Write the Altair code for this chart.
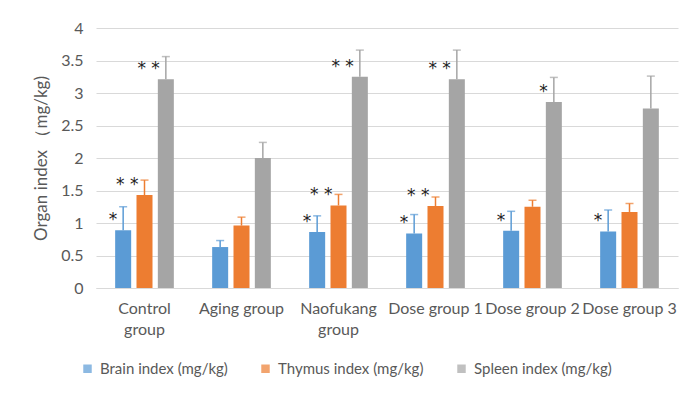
import altair as alt
import pandas as pd

groups = ["Control group", "Aging group", "Naofukang group", "Dose group 1", "Dose group 2", "Dose group 3"]
series = ["Brain index (mg/kg)", "Thymus index (mg/kg)", "Spleen index (mg/kg)"]
brain = [0.89, 0.63, 0.86, 0.84, 0.88, 0.87]
brain_err = [1.25, 0.73, 1.11, 1.13, 1.18, 1.20]
thymus = [1.43, 0.96, 1.27, 1.26, 1.25, 1.17]
thymus_err = [1.66, 1.09, 1.44, 1.40, 1.35, 1.30]
spleen = [3.21, 2.00, 3.25, 3.21, 2.86, 2.76]
spleen_err = [3.56, 2.24, 3.66, 3.66, 3.24, 3.26]
brain_sig = ["*", "", "*", "*", "*", "*"]
thymus_sig = ["* *", "", "* *", "* *", "", ""]
spleen_sig = ["* *", "", "* *", "* *", "*", ""]
colors = ["#5b9bd5", "#ed7d31", "#a5a5a5"]
y_ticks = [0, 0.5, 1, 1.5, 2, 2.5, 3, 3.5, 4]

rows = []
for s, vals, errs, sigs in [
    (series[0], brain, brain_err, brain_sig),
    (series[1], thymus, thymus_err, thymus_sig),
    (series[2], spleen, spleen_err, spleen_sig),
]:
    for g, v, e, sg in zip(groups, vals, errs, sigs):
        rows.append({"group": g, "series": s, "value": v, "err": e, "sig": sg})
df = pd.DataFrame(rows)

FONT = "Lato"
GREY = "#595959"

x_enc = alt.X(
    "group:N", sort=groups, title=None,
    scale=alt.Scale(paddingInner=0.34, paddingOuter=0.17),
    axis=alt.Axis(
        labelAngle=0, labelFontSize=16, labelColor=GREY, labelFont=FONT,
        labelPadding=12, labelLineHeight=21, ticks=False, domainColor="#d9d9d9",
        labelOverlap=False, labelLimit=200, labelBound=False,
        labelExpr="datum.value == 'Control group' ? ['Control', 'group'] : datum.value == 'Naofukang group' ? ['Naofukang', 'group'] : datum.value",
    ),
)
xo_enc = alt.XOffset("series:N", sort=series, scale=alt.Scale(paddingInner=0.25, paddingOuter=0.125))
color_enc = alt.Color(
    "series:N", sort=series, scale=alt.Scale(domain=series, range=colors),
    legend=alt.Legend(
        title=None, orient="none", legendX=-16, legendY=333, direction="horizontal",
        symbolType="square", symbolSize=72, symbolStrokeWidth=0, labelFontSize=15,
        labelColor=GREY, labelFont=FONT, columnPadding=30, labelOffset=5,
    ),
)

y_axis = alt.Axis(
    values=y_ticks, format="~g", labelFontSize=16, labelColor=GREY, labelFont=FONT,
    labelPadding=13, ticks=False, domain=False, gridColor="#d9d9d9", labelOverlap=False,
    titleFontSize=17, titleColor=GREY, titleFont=FONT, titleFontWeight="normal",
    titlePadding=10,
)
Y_TITLE = "Organ index （mg/kg)"
y_scale = alt.Scale(domain=[0, 4])


def yenc(field):
    return alt.Y(field, scale=y_scale, title=Y_TITLE, axis=y_axis)


base = alt.Chart(df).encode(x=x_enc, xOffset=xo_enc)

bars = base.mark_bar().encode(y=yenc("value:Q"), color=color_enc)
rules = base.mark_rule(strokeWidth=1.5).encode(y=yenc("value:Q"), y2="err:Q", color=color_enc)
caps = base.mark_tick(size=8, thickness=1.5).encode(y=yenc("err:Q"), color=color_enc)
stars = base.mark_text(align="right", baseline="middle", dx=-6, dy=-10, fontSize=17,
                       font="DejaVu Sans", color="#222222").encode(y=yenc("value:Q"), text="sig:N")

chart = alt.layer(bars, rules, caps, stars).properties(
    width=582, height=260, autosize="none",
    padding={"left": 88, "top": 20, "right": 14, "bottom": 104},
).configure_view(stroke=None)

chart.save("out.html", embed_options={"renderer": "svg", "actions": False})
